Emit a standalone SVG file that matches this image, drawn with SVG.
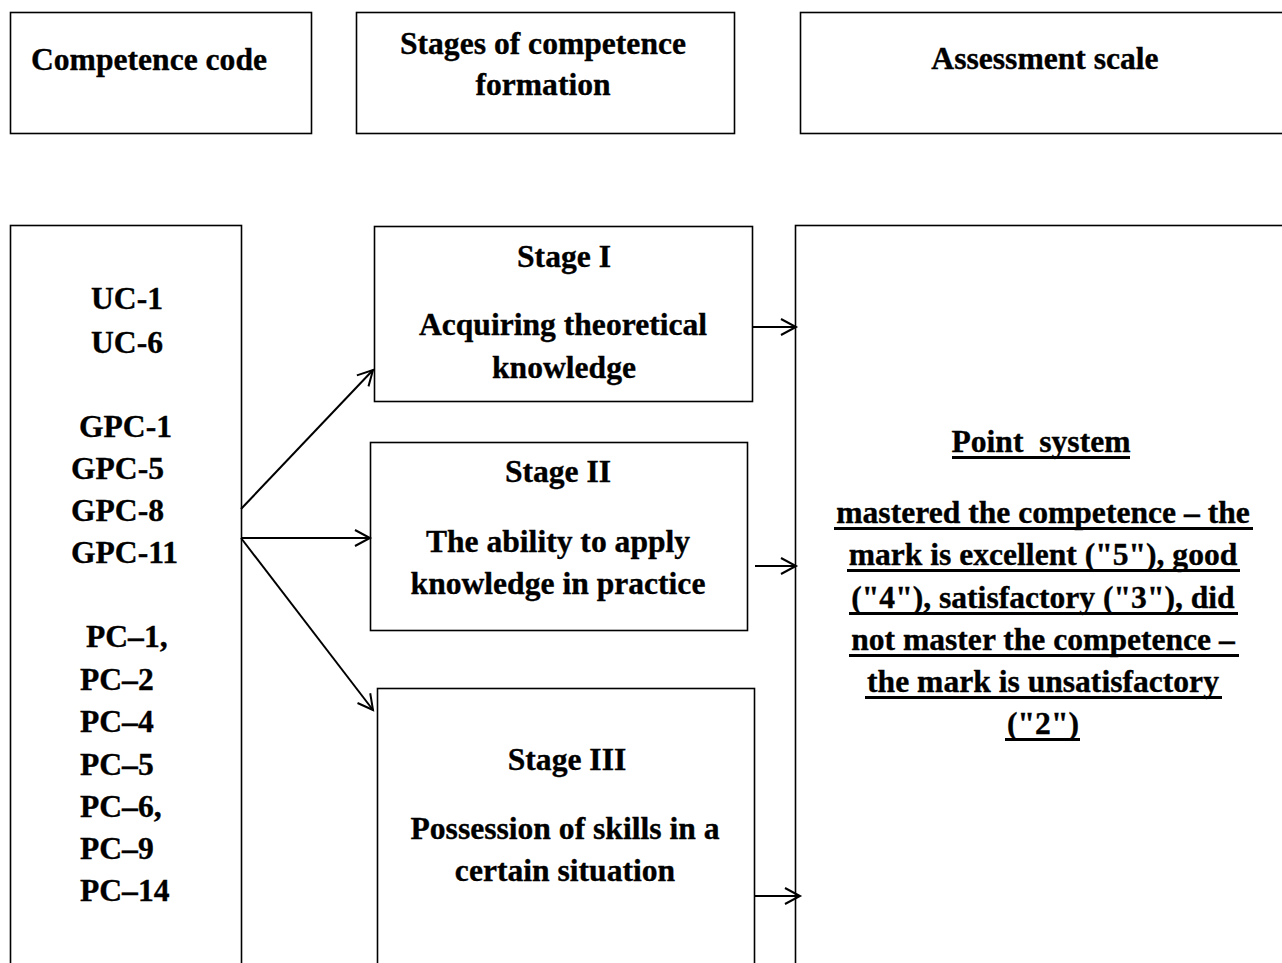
<svg xmlns="http://www.w3.org/2000/svg" width="1282" height="963" viewBox="0 0 1282 963">
  <style>
    .box { fill: #ffffff; stroke: #000000; stroke-width: 1.6; }
    .t { font-family: "Liberation Serif", "Times New Roman", serif; font-weight: bold; font-size: 31.6px; fill: #000000; stroke: #000000; stroke-width: 0.35; }
    .c { text-anchor: middle; }
    .ul { stroke: #000000; stroke-width: 3.2; }
    .link { fill: none; stroke: #000000; stroke-width: 2; }
  </style>
  <defs>
    <marker id="arrow" markerUnits="userSpaceOnUse" markerWidth="22" markerHeight="22" refX="16" refY="9" orient="auto">
      <path d="M1,1 L16,9 L1,17" fill="none" stroke="#000000" stroke-width="2"/>
    </marker>
  </defs>
  <rect width="1282" height="963" fill="#ffffff"/>

  <!-- column headers -->
  <g id="head-code">
    <rect class="box" x="10.5" y="12.5" width="301" height="121"/>
    <text class="t c" x="149" y="70">Competence code</text>
  </g>
  <g id="head-stages">
    <rect class="box" x="356.5" y="12.5" width="378" height="121"/>
    <text class="t c" x="543" y="54">Stages of competence</text>
    <text class="t c" x="543" y="95">formation</text>
  </g>
  <g id="head-scale">
    <rect class="box" x="800.5" y="12.5" width="490" height="121" stroke-width="2"/>
    <text class="t c" x="1045" y="69">Assessment scale</text>
  </g>

  <!-- competence codes -->
  <g id="codes">
    <rect class="box" x="10.5" y="225.5" width="231" height="760"/>
    <text class="t" x="91" y="309">UC-1</text>
    <text class="t" x="91" y="353">UC-6</text>
    <text class="t" x="79" y="437">GPC-1</text>
    <text class="t" x="71" y="479">GPC-5</text>
    <text class="t" x="71" y="521">GPC-8</text>
    <text class="t" x="71" y="563">GPC-11</text>
    <text class="t" x="86" y="647">PC–1,</text>
    <text class="t" x="80" y="690">PC–2</text>
    <text class="t" x="80" y="732">PC–4</text>
    <text class="t" x="80" y="775">PC–5</text>
    <text class="t" x="80" y="817">PC–6,</text>
    <text class="t" x="80" y="859">PC–9</text>
    <text class="t" x="80" y="901">PC–14</text>
  </g>

  <!-- stages -->
  <g id="stage-1">
    <rect class="box" x="374.5" y="226.5" width="378" height="175"/>
    <text class="t c" x="564" y="267">Stage I</text>
    <text class="t c" x="563" y="335">Acquiring theoretical</text>
    <text class="t c" x="564" y="378">knowledge</text>
  </g>
  <g id="stage-2">
    <rect class="box" x="370.5" y="442.5" width="377" height="188"/>
    <text class="t c" x="558" y="482">Stage II</text>
    <text class="t c" x="558" y="552">The ability to apply</text>
    <text class="t c" x="558" y="594">knowledge in practice</text>
  </g>
  <g id="stage-3">
    <rect class="box" x="377.5" y="688.5" width="377" height="300"/>
    <text class="t c" x="567" y="770">Stage III</text>
    <text class="t c" x="565" y="839">Possession of skills in a</text>
    <text class="t c" x="565" y="881">certain situation</text>
  </g>

  <!-- assessment scale, underlined text -->
  <g id="scale">
    <rect class="box" x="795.5" y="225.5" width="495" height="760"/>
    <text class="t c" x="1041" y="452" xml:space="preserve">Point  system</text>
    <text class="t c" x="1043" y="523">mastered the competence – the</text>
    <text class="t c" x="1043" y="565">mark is excellent ("5"), good</text>
    <text class="t c" x="1043" y="608">("4"), satisfactory ("3"), did</text>
    <text class="t c" x="1043" y="650">not master the competence –</text>
    <text class="t c" x="1043" y="692">the mark is unsatisfactory</text>
    <text class="t c" x="1043" y="734">("2")</text>
    <line class="ul" x1="952" y1="457.5" x2="1130" y2="457.5"/>
    <line class="ul" x1="834" y1="528.5" x2="1253" y2="528.5"/>
    <line class="ul" x1="847" y1="570.5" x2="1240" y2="570.5"/>
    <line class="ul" x1="849" y1="613.5" x2="1238" y2="613.5"/>
    <line class="ul" x1="849" y1="655.5" x2="1239" y2="655.5"/>
    <line class="ul" x1="865" y1="697.5" x2="1222" y2="697.5"/>
    <line class="ul" x1="1005" y1="739.5" x2="1080" y2="739.5"/>
  </g>

  <!-- connectors -->
  <g id="connectors">
    <line class="link" x1="241" y1="509" x2="373" y2="370" marker-end="url(#arrow)"/>
    <line class="link" x1="241" y1="538" x2="370" y2="538" marker-end="url(#arrow)"/>
    <line class="link" x1="241" y1="538" x2="373" y2="710" marker-end="url(#arrow)"/>
    <line class="link" x1="752" y1="327" x2="796" y2="327" marker-end="url(#arrow)"/>
    <line class="link" x1="755" y1="566" x2="796" y2="566" marker-end="url(#arrow)"/>
    <line class="link" x1="755" y1="896" x2="800" y2="896" marker-end="url(#arrow)"/>
  </g>
</svg>
